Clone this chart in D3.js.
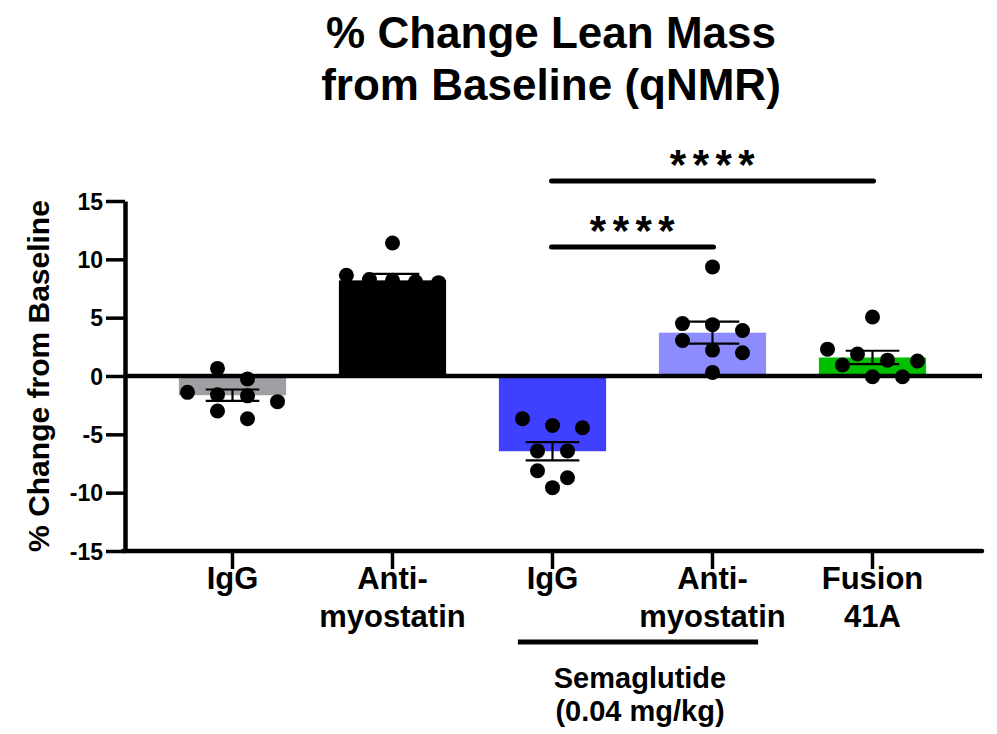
<!DOCTYPE html>
<html>
<head>
<meta charset="utf-8">
<script src="https://cdn.jsdelivr.net/npm/d3@7"></script>
<style>
  body { margin: 0; background: #fff; }
  svg { display: block; font-family: "Liberation Sans", Arial, sans-serif; font-weight: bold; }
</style>
</head>
<body>
<div id="chart"></div>
<script>
// groups along the x axis, label lines for each
const groups = ["IgG", "Anti-myostatin", "Sema IgG", "Sema Anti-myostatin", "Fusion 41A"];
const groupLabels = [["IgG"], ["Anti-", "myostatin"], ["IgG"], ["Anti-", "myostatin"], ["Fusion", "41A"]];
const groupColors = ["#a0a0a4", "#000000", "#4040ff", "#8c8cff", "#00c000"];

// individual animals, % change from baseline
const igg = [0.65, -0.26, -1.4, -1.7, -1.6, -2.2, -3.0, -3.67];
const antiMyostatin = [11.4, 8.27, 8.0, 8.2, 8.64, 8.07, 7.1, 5.9];
const semaIgg = [-4.43, -4.24, -3.67, -6.42, -6.42, -8.12, -8.72, -9.57];
const semaAntiMyostatin = [9.35, 4.49, 4.4, 3.9, 3.04, 1.99, 2.22, 0.31];
const fusion41A = [5.06, 1.88, 1.28, 1.36, 2.3, 0.94, -0.06, -0.06];
const values = [igg, antiMyostatin, semaIgg, semaAntiMyostatin, fusion41A];

const yTicks = [-15, -10, -5, 0, 5, 10, 15];

// significance comparisons (group index from / to)
const comparisons = [
  { from: 2, to: 3, label: "****" },
  { from: 2, to: 4, label: "****" }
];

const width = 997, height = 734;
const axisX = 125, axisRight = 982;

const svg = d3.select("#chart").append("svg")
  .attr("width", width)
  .attr("height", height);

const x = d3.scaleBand()
  .domain(groups)
  .range([152.5, 952.5])
  .paddingInner(0.33)
  .paddingOuter(0.165);

const y = d3.scaleLinear().domain([-15, 15]).range([551, 201]);

const stats = values.map((v) => {
  const m = d3.mean(v);
  const sem = d3.deviation(v) / Math.sqrt(v.length);
  return { mean: m, sem: sem };
});

// title
svg.append("text")
  .attr("x", 551)
  .attr("text-anchor", "middle")
  .attr("font-size", 44)
  .selectAll("tspan")
  .data(["% Change Lean Mass", "from Baseline (qNMR)"])
  .join("tspan")
  .attr("x", 551)
  .attr("y", (d, i) => 48 + i * 52)
  .text((d) => d);

// y label
svg.append("text")
  .attr("transform", `translate(49,${y(0)}) rotate(-90)`)
  .attr("text-anchor", "middle")
  .attr("font-size", 30)
  .text("% Change from Baseline");

// bars
svg.append("g")
  .selectAll("rect")
  .data(stats)
  .join("rect")
  .attr("x", (d, i) => x(groups[i]))
  .attr("width", x.bandwidth())
  .attr("y", (d) => y(Math.max(0, d.mean)))
  .attr("height", (d) => Math.abs(y(d.mean) - y(0)))
  .attr("fill", (d, i) => groupColors[i]);

// error bars (mean +/- SEM)
const err = svg.append("g")
  .attr("stroke", "#000")
  .attr("stroke-width", 2.2)
  .selectAll("g")
  .data(stats)
  .join("g")
  .attr("transform", (d, i) => `translate(${x(groups[i]) + x.bandwidth() / 2},0)`);
err.append("line")
  .attr("y1", (d) => y(d.mean - d.sem))
  .attr("y2", (d) => y(d.mean + d.sem));
err.selectAll("line.cap")
  .data((d) => [d.mean - d.sem, d.mean + d.sem])
  .join("line")
  .attr("class", "cap")
  .attr("x1", -x.bandwidth() / 4)
  .attr("x2", x.bandwidth() / 4)
  .attr("y1", (d) => y(d))
  .attr("y2", (d) => y(d));

// Prism-like column scatter: points close in y share a row and get
// spread side by side, centred on the bar
const r = 7.5, rowHeight = 13, maxStep = 30;
function scatter(vals) {
  const sorted = vals.map((v) => y(v)).sort((a, b) => a - b);
  const rows = [];
  sorted.forEach((py) => {
    const last = rows[rows.length - 1];
    if (last && py - last[0] <= rowHeight) last.push(py);
    else rows.push([py]);
  });
  const out = [];
  rows.forEach((row) => {
    const n = row.length;
    const step = n > 1 ? Math.min(maxStep, (x.bandwidth() - 2 * r) / (n - 1)) : 0;
    row.forEach((py, k) => out.push({ x: (k - (n - 1) / 2) * step, y: py }));
  });
  return out;
}

// zero line
svg.append("line")
  .attr("x1", axisX).attr("x2", axisRight)
  .attr("y1", y(0)).attr("y2", y(0))
  .attr("stroke", "#000").attr("stroke-width", 4.5);

svg.append("g")
  .selectAll("g")
  .data(values)
  .join("g")
  .attr("transform", (d, i) => `translate(${x(groups[i]) + x.bandwidth() / 2},0)`)
  .selectAll("circle")
  .data((d) => scatter(d))
  .join("circle")
  .attr("cx", (d) => d.x)
  .attr("cy", (d) => d.y)
  .attr("r", r)
  .attr("fill", "#000");

// y axis
const yAxis = svg.append("g")
  .attr("transform", `translate(${axisX},0)`)
  .call(d3.axisLeft(y).tickValues(yTicks).tickFormat((d) => String(d))
    .tickSize(19).tickSizeOuter(0).tickPadding(3));
yAxis.select(".domain").attr("stroke-width", 4.5);
yAxis.selectAll(".tick line").attr("stroke-width", 3.5);
yAxis.selectAll(".tick text")
  .attr("font-size", 23)
  .attr("font-family", "Liberation Sans, Arial, sans-serif")
  .attr("font-weight", "bold")
  .attr("fill", "#000")
  .attr("dy", "0.36em");

// x axis
svg.append("line")
  .attr("x1", axisX - 2).attr("x2", axisRight)
  .attr("y1", y(-15)).attr("y2", y(-15))
  .attr("stroke", "#000").attr("stroke-width", 4.5)
  .attr("stroke-linecap", "round");
const xTicks = svg.append("g")
  .selectAll("g")
  .data(groups)
  .join("g")
  .attr("transform", (d) => `translate(${x(d) + x.bandwidth() / 2},${y(-15)})`);
xTicks.append("line")
  .attr("y2", 18)
  .attr("stroke", "#000")
  .attr("stroke-width", 3.5);
xTicks.append("text")
  .attr("text-anchor", "middle")
  .attr("font-size", 31)
  .selectAll("tspan")
  .data((d, i) => groupLabels[i])
  .join("tspan")
  .attr("x", 0)
  .attr("y", (d, i) => 38 + i * 38)
  .text((d) => d);

// semaglutide bracket
const semaX1 = x(groups[2]) + 19, semaX2 = x(groups[3]) + x.bandwidth() - 8;
svg.append("line")
  .attr("x1", semaX1).attr("x2", semaX2)
  .attr("y1", 642).attr("y2", 642)
  .attr("stroke", "#000").attr("stroke-width", 5);
svg.append("text")
  .attr("text-anchor", "middle")
  .attr("font-size", 29)
  .selectAll("tspan")
  .data(["Semaglutide", "(0.04 mg/kg)"])
  .join("tspan")
  .attr("x", (semaX1 + semaX2) / 2 + 2)
  .attr("y", (d, i) => 688 + i * 33)
  .text((d) => d);

// significance bars
const sig = svg.append("g")
  .selectAll("g")
  .data(comparisons)
  .join("g")
  .attr("transform", (d, i) => `translate(0,${247 - i * 66})`);
sig.append("line")
  .attr("x1", (d) => x(groups[d.from]) + x.bandwidth() / 2 - 1)
  .attr("x2", (d) => x(groups[d.to]) + x.bandwidth() / 2 + 1)
  .attr("stroke", "#000")
  .attr("stroke-width", 5)
  .attr("stroke-linecap", "round");
sig.append("text")
  .attr("x", (d) => (x(groups[d.from]) + x(groups[d.to])) / 2 + x.bandwidth() / 2 + 3)
  .attr("y", -2)
  .attr("text-anchor", "middle")
  .attr("font-size", 42)
  .attr("letter-spacing", 6.5)
  .text((d) => d.label);
</script>
</body>
</html>
